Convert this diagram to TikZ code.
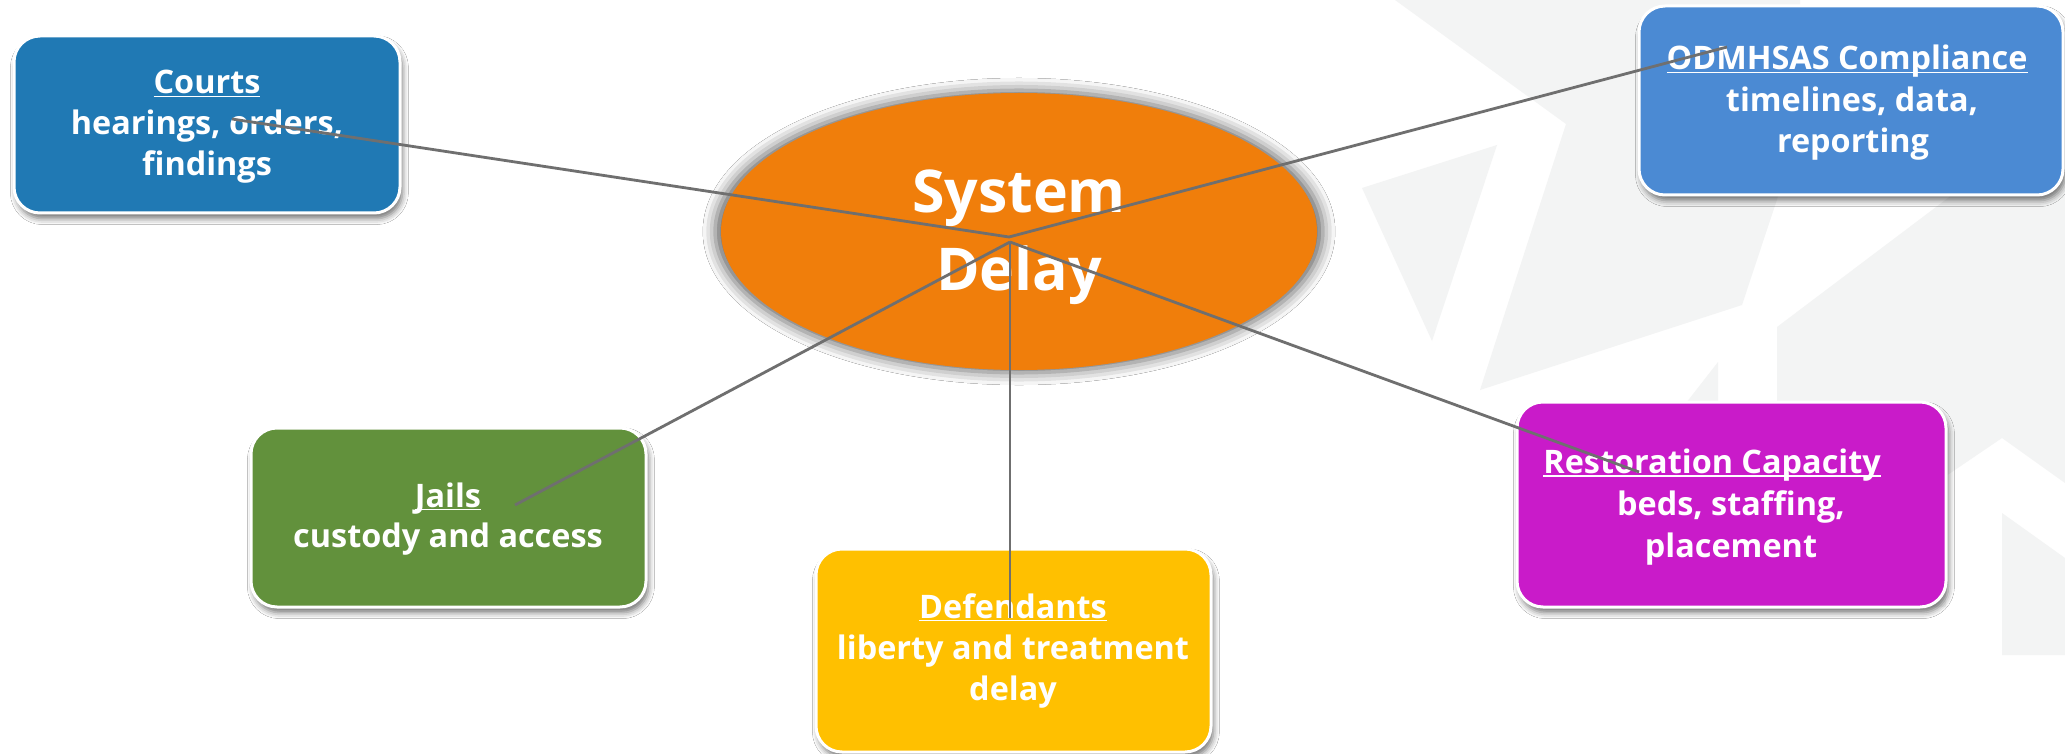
\documentclass[tikz,border=0pt]{standalone}
\usepackage{fontspec}
\setmainfont{Open Sans}
\usetikzlibrary{shapes.geometric,shadows.blur}
\definecolor{courtsC}{HTML}{2079B4}
\definecolor{odmC}{HTML}{4B8AD3}
\definecolor{restC}{HTML}{C91BC9}
\definecolor{jailC}{HTML}{62913C}
\definecolor{defC}{HTML}{FFC000}
\definecolor{sysC}{HTML}{F07E0B}
\definecolor{bgC}{HTML}{F3F4F4}
\definecolor{lineC}{HTML}{6F6F6F}
\newcommand{\myul}[1]{\setbox0\hbox{#1}\rlap{\rule[-1.7pt]{\wd0}{0.8pt}}\box0}
\begin{document}
\begin{tikzpicture}[x=0.5pt,y=-0.5pt,
  box/.style={draw=white, line width=1.5pt, rounded corners=13pt, inner sep=0pt,
    blur shadow={shadow xshift=1.2pt, shadow yshift=-2.8pt, shadow blur radius=3pt, shadow opacity=55}},
  lbl/.style={text=white, font=\fontsize{16.2}{20}\selectfont\bfseries, anchor=base, inner sep=0pt},
  conn/.style={draw=lineC, line width=1.4pt},
  bgshape/.style={fill=bgC, draw=none}]
\useasboundingbox (0,0) rectangle (2065,754);
\fill[white] (0,0) rectangle (2065,754);
% faint background shapes
\fill[bgshape] (1395,0) -- (1566,124) -- (1480,390) -- (1742,305) -- (1800,130) -- (1800,0) -- cycle;
\fill[bgshape] (1777,327) -- (1948,198) -- (2065,110) -- (2065,483) -- (2002,438) -- (1946,476) -- (1946,607) -- (1777,607) -- cycle;
\fill[bgshape] (1718,362) -- (1640,462) -- (1718,462) -- cycle;
\fill[bgshape] (2002,513) -- (2065,558) -- (2065,655) -- (2002,655) -- cycle;
\fill[bgshape] (1362,188) -- (1497,145) -- (1432,341) -- cycle;
% central ellipse
\node[ellipse, fill=sysC, inner sep=0pt, minimum width=298pt, minimum height=138.5pt,
  blur shadow={shadow xshift=0pt, shadow yshift=0pt, shadow blur radius=6pt, shadow scale=1.02, shadow opacity=60}] (sys) at (1019,231.5) {};
\node[lbl, font=\fontsize{29.5}{36}\selectfont\bfseries] (sys1) at (1019,213) {System};
\node[lbl, font=\fontsize{29.5}{36}\selectfont\bfseries] (sys2) at (1019,290) {Delay};
% boxes
\node[box, fill=courtsC, minimum width=193pt, minimum height=88.5pt] (courts) at (207,124.5) {};
\node[box, fill=odmC, minimum width=212pt, minimum height=94.5pt] (odm) at (1851,100.5) {};
\node[box, fill=restC, minimum width=214.5pt, minimum height=102.5pt] (rest) at (1731.5,504.5) {};
\node[box, fill=jailC, minimum width=197.5pt, minimum height=89.5pt] (jails) at (448.5,517.5) {};
\node[box, fill=defC, minimum width=197.5pt, minimum height=101.5pt] (def) at (1013.5,650.5) {};
% texts
\node[lbl] (c1) at (207,94) {\myul{Courts}};
\node[lbl] (c2) at (207,135) {hearings, orders,};
\node[lbl] (c3) at (207,176) {findings};
\node[lbl] (o1) at (1847,70) {\myul{ODMHSAS Compliance}};
\node[lbl] (o2) at (1852,111.5) {timelines, data,};
\node[lbl] (o3) at (1853,153) {reporting};
\node[lbl, anchor=base west] (r1) at (1543,473.5) {\myul{Restoration Capacity}};
\node[lbl] (r2) at (1731,515) {beds, staffing,};
\node[lbl] (r3) at (1731,557) {placement};
\node[lbl] (j1) at (448,507) {\myul{Jails}};
\node[lbl] (j2) at (448,547) {custody and access};
\node[lbl] (d1) at (1013,618) {\myul{Defendants}};
\node[lbl] (d2) at (1013,659) {liberty and treatment};
\node[lbl] (d3) at (1013,700) {delay};
% connector end points
\coordinate (hubA) at (1009,237);
\coordinate (hubB) at (1010,242);
\coordinate (cE) at (232,119);
\coordinate (oE) at (1727,47);
\coordinate (rE) at (1639,472);
\coordinate (jE) at (515,505);
\coordinate (dE) at (1010,618);
\draw[conn] (cE) -- (hubA) -- (oE);
\draw[conn] (hubB) -- (jE);
\draw[conn] (hubB) -- (dE);
\draw[conn] (hubB) -- (rE);
\end{tikzpicture}
\end{document}
